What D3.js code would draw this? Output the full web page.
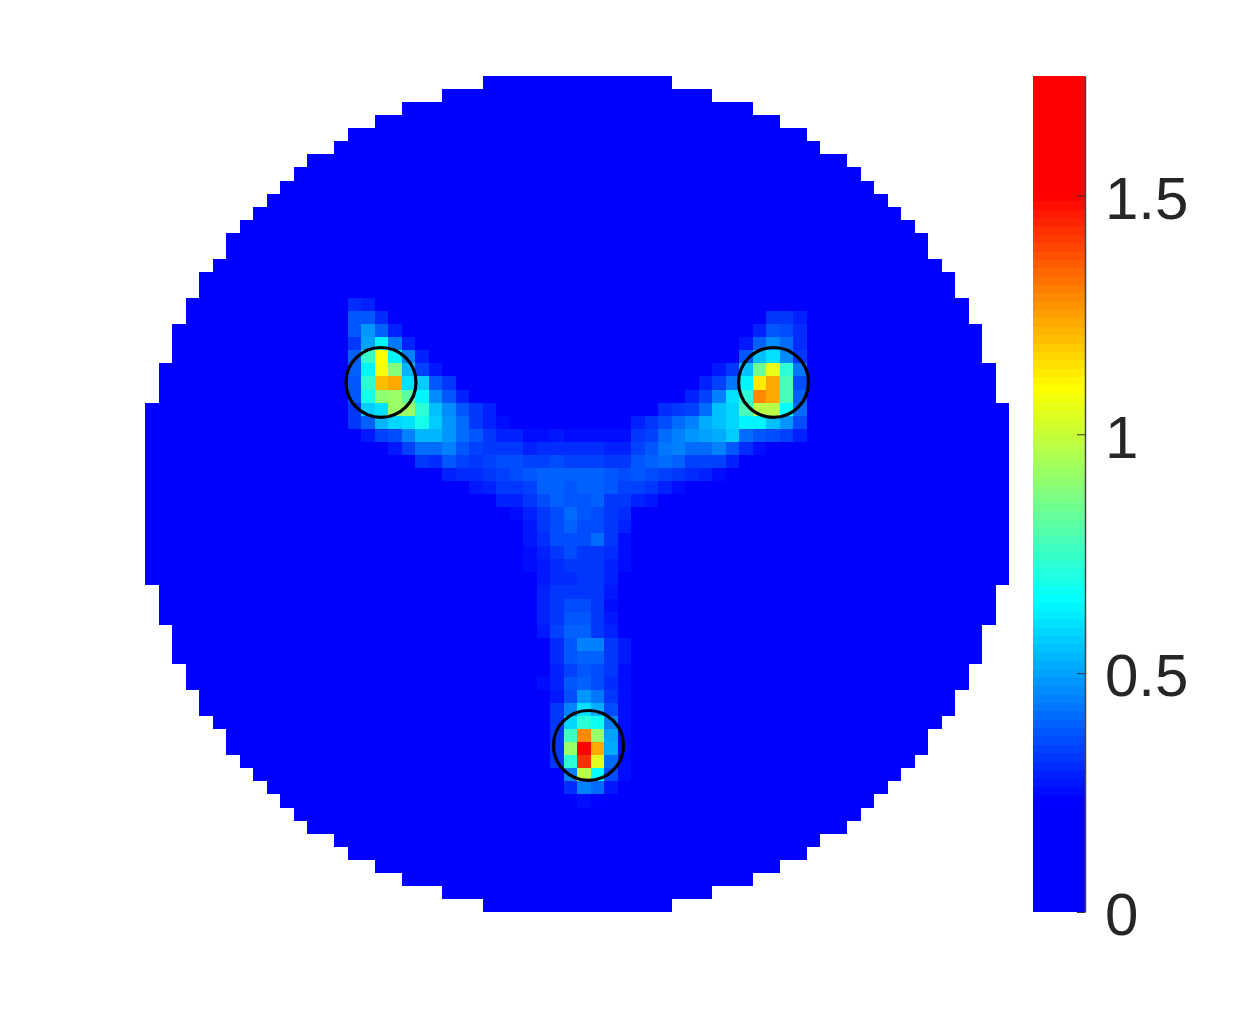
<!DOCTYPE html>
<html>
<head>
<meta charset="utf-8">
<script src="https://cdn.jsdelivr.net/npm/d3@7"></script>
<style>html,body{margin:0;padding:0;background:#fff}svg{display:block}</style>
</head>
<body>
<svg id="chart" width="1245" height="1025"></svg>
<script>
const gridSize = 64;
const colorMax = 1.75;
const colorLevels = 100;
const colorKnots = [0, 0.234, 0.653, 0.875, 1.096, 1.3, 1.5, 1.75];
const colorStops = ["#0000ff", "#0000ff", "#00ffff", "#80ff80", "#ffff00", "#ff8000", "#ff0000", "#ff0000"];
const tickValues = [0, 0.5, 1, 1.5];
const tickLabels = ["0", "0.5", "1", "1.5"];
// first column of the disc in each of the top 32 rows (mirrored for the lower half)
const rowStart = [25,22,19,17,15,14,12,11,10,9,8,7,6,6,5,4,4,3,3,2,2,2,1,1,1,0,0,0,0,0,0,0];
const markers = [[17.48, 23.46], [46.56, 23.46], [32.85, 51.25]];
const markerRadius = 2.59;
// [row, first column, values]; every other cell in the disc is 0
const heatSpans = [
[17,15,[.30,.28]],
[18,15,[.37,.38,.30]],[18,46,[.32,.33,.28]],
[19,15,[.37,.48,.40,.28]],[19,45,[.28,.38,.365,.30]],
[20,15,[.32,.50,.63,.43,.28]],[20,44,[.27,.40,.46,.41,.30]],
[21,15,[.40,.75,1.10,.63,.45,.28]],[21,44,[.38,.545,.61,.46,.32]],
[22,15,[.40,.63,1.08,.88,.53,.35,.27]],[22,42,[.27,.32,.545,.85,1.05,.73,.43]],
[23,15,[.38,.73,1.20,1.23,.61,.56,.38,.32]],[23,41,[.28,.35,.43,.64,1.12,1.23,.78,.365]],
[24,15,[.38,.70,.90,.92,.82,.63,.47,.37,.29]],[24,40,[.28,.35,.45,.61,.73,1.28,1.24,.77,.40]],
[25,15,[.33,.57,.61,.92,.92,.72,.545,.46,.38,.32,.28]],[25,38,[.30,.32,.35,.41,.545,.595,.78,.98,.98,.65,.41]],
[26,15,[.32,.40,.53,.595,.61,.69,.56,.48,.41,.33,.28,.25]],[26,36,[.28,.32,.365,.41,.45,.51,.545,.595,.64,.63,.545,.48,.365]],
[27,16,[.27,.35,.365,.45,.53,.53,.48,.41,.38,.32,.29,.29,.25,.25,.27,.25,.25,.25,.25,.25,.32,.35,.41,.45,.48,.50,.51,.56,.41,.38,.365,.35,.28]],
[28,18,[.27,.35,.41,.415,.45,.38,.35,.33,.32,.32,.28,.30,.30,.30,.30,.30,.28,.28,.35,.38,.43,.45,.41,.41,.45,.38,.30,.25]],
[29,20,[.32,.30,.38,.35,.33,.35,.365,.365,.35,.35,.365,.35,.35,.35,.33,.33,.38,.40,.41,.40,.35,.35,.35,.28]],
[30,22,[.28,.30,.30,.33,.35,.365,.38,.40,.40,.39,.39,.40,.37,.365,.38,.365,.35,.32,.30,.28,.25]],
[31,24,[.27,.28,.32,.32,.35,.40,.40,.38,.40,.40,.37,.35,.35,.33,.28,.25]],
[32,26,[.28,.28,.33,.365,.40,.38,.38,.40,.32,.32,.28,.27]],
[33,27,[.25,.28,.33,.365,.41,.37,.365,.32,.30]],
[34,28,[.27,.32,.365,.40,.365,.365,.32,.28]],
[35,28,[.27,.30,.365,.365,.365,.41,.32,.25]],
[36,28,[.25,.28,.32,.365,.33,.33,.30,.25]],
[37,28,[.25,.275,.30,.33,.33,.33,.28,.25]],
[38,29,[.27,.30,.30,.33,.33,.28]],
[39,29,[.28,.33,.33,.33,.32,.27]],
[40,29,[.28,.33,.365,.365,.32,.25]],
[41,29,[.28,.33,.38,.38,.32,.27]],
[42,29,[.27,.35,.40,.40,.32,.28]],
[43,30,[.30,.38,.45,.45,.33,.27]],
[44,30,[.30,.38,.40,.40,.32,.27]],
[45,30,[.28,.35,.38,.365,.32,.26]],
[46,29,[.26,.28,.38,.40,.365,.30,.25]],
[47,30,[.27,.365,.48,.43,.32,.25]],
[48,30,[.32,.45,.61,.51,.365,.25]],
[49,30,[.33,.595,.73,.67,.45,.26]],
[50,30,[.33,.76,1.29,.92,.50,.25]],
[51,30,[.33,.92,1.56,1.23,.51,.25]],
[52,30,[.32,.73,1.42,1.04,.41,.25]],
[53,31,[.45,.97,.65,.365,.25]],
[54,31,[.30,.45,.41,.27]],
[55,32,[.25,.24]]
];

const svg = d3.select("#chart");
const x = d3.scaleLinear().domain([0, gridSize]).range([145, 1009]);
const y = d3.scaleLinear().domain([0, gridSize]).range([76, 912]);
const cbarY = d3.scaleLinear().domain([0, colorMax]).range([912, 76]);
const jet = d3.scaleLinear().domain(colorKnots).range(colorStops).interpolate(d3.interpolateRgb).clamp(true);
const step = colorMax / colorLevels;
const color = v => jet((Math.min(Math.floor(v / step), colorLevels - 1) + 0.5) * step);

const lookup = new Map();
heatSpans.forEach(([r, c, vals]) => vals.forEach((v, k) => lookup.set(r + "," + (c + k), v)));
const cells = [];
for (let r = 0; r < gridSize; r++) {
  const s = rowStart[r < 32 ? r : gridSize - 1 - r];
  for (let c = s; c < gridSize - s; c++) cells.push({r, c, v: lookup.get(r + "," + c) || 0});
}
svg.append("g").attr("shape-rendering", "crispEdges").selectAll("rect").data(cells).join("rect")
  .attr("x", d => x(d.c)).attr("y", d => y(d.r))
  .attr("width", d => x(d.c + 1) - x(d.c)).attr("height", d => y(d.r + 1) - y(d.r))
  .attr("fill", d => color(d.v));

svg.append("g").selectAll("circle").data(markers).join("circle")
  .attr("cx", d => x(d[0])).attr("cy", d => y(d[1]))
  .attr("r", x(markerRadius) - x(0))
  .attr("fill", "none").attr("stroke", "#000").attr("stroke-width", 3.2);

svg.append("g").attr("shape-rendering", "crispEdges").selectAll("rect")
  .data(d3.range(colorLevels)).join("rect")
  .attr("x", 1033).attr("width", 52)
  .attr("y", d => cbarY((d + 1) * step)).attr("height", d => cbarY(d * step) - cbarY((d + 1) * step))
  .attr("fill", d => color((d + 0.5) * step));

const axis = d3.axisRight(cbarY).tickValues(tickValues).tickFormat((d, i) => tickLabels[i])
  .tickSizeInner(-8).tickSizeOuter(0).tickPadding(20);
const gAxis = svg.append("g").attr("transform", "translate(1085,0)").call(axis);
gAxis.select(".domain").attr("stroke", "#444").attr("stroke-width", 1.5);
gAxis.selectAll("line").attr("stroke", "#333").attr("stroke-width", 1);
gAxis.selectAll("text").attr("font-family", "'Liberation Sans', Arial, sans-serif")
  .attr("font-size", 60).attr("fill", "#262626").attr("dy", "0.38em").attr("text-anchor", "start");
</script>
</body>
</html>
